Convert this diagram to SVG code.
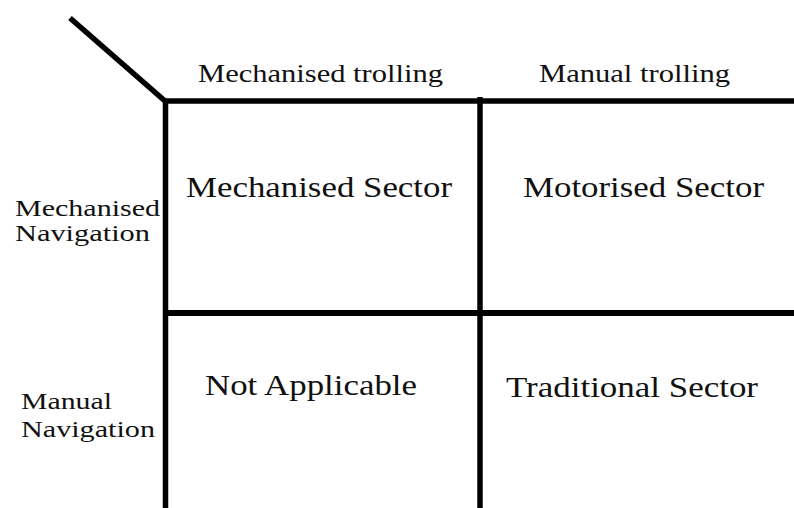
<svg xmlns="http://www.w3.org/2000/svg" width="794" height="508" viewBox="0 0 794 508">
<style>
.ln{stroke:#000;stroke-width:5.5;fill:none}
.t{font-family:'Liberation Serif',serif;fill:#111}
.hd{font-size:25px}
.cl{font-size:30px}
.rw{font-size:24px}
</style>
<rect width="794" height="508" fill="#fff"/>
<g id="connectors">
<line class="ln" x1="70" y1="18" x2="165" y2="101"/>
<line class="ln" x1="163" y1="101" x2="794" y2="101"/>
<line class="ln" x1="165.5" y1="99" x2="165.5" y2="508"/>
<line class="ln" x1="480" y1="97" x2="480" y2="508"/>
<line class="ln" x1="163" y1="313" x2="794" y2="313" style="stroke-width:6"/>
</g>
<g id="col-mech-trolling"><text class="t hd" x="198" y="82" textLength="245" lengthAdjust="spacingAndGlyphs">Mechanised trolling</text></g>
<g id="col-manual-trolling"><text class="t hd" x="539" y="82" textLength="191" lengthAdjust="spacingAndGlyphs">Manual trolling</text></g>
<g id="row-mech-nav"><text class="t rw" x="15" y="216" textLength="145" lengthAdjust="spacingAndGlyphs">Mechanised</text><text class="t rw" x="15" y="241" textLength="135" lengthAdjust="spacingAndGlyphs">Navigation</text></g>
<g id="row-manual-nav"><text class="t rw" x="21" y="409" textLength="91" lengthAdjust="spacingAndGlyphs">Manual</text><text class="t rw" x="21" y="437" textLength="134" lengthAdjust="spacingAndGlyphs">Navigation</text></g>
<g id="cell-mechanised"><text class="t cl" x="186" y="197" textLength="266" lengthAdjust="spacingAndGlyphs">Mechanised Sector</text></g>
<g id="cell-motorised"><text class="t cl" x="523" y="197" textLength="241" lengthAdjust="spacingAndGlyphs">Motorised Sector</text></g>
<g id="cell-na"><text class="t cl" x="205" y="395" textLength="212" lengthAdjust="spacingAndGlyphs">Not Applicable</text></g>
<g id="cell-traditional"><text class="t cl" x="506" y="397" textLength="252" lengthAdjust="spacingAndGlyphs">Traditional Sector</text></g>
</svg>
